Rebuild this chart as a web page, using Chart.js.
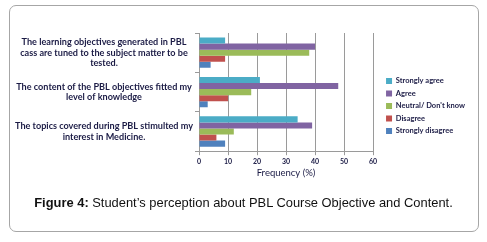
<!DOCTYPE html>
<html>
<head>
<meta charset="utf-8">
<script src="https://cdn.jsdelivr.net/npm/chart.js"></script>
<style>
  html, body { margin: 0; padding: 0; background: #fff; }
  #cadre {
    position: absolute; left: 9px; top: 5px; width: 470px; height: 227px;
    border: 1px solid #a6a6a6; border-radius: 7px; box-sizing: border-box;
  }
  #zone { position: absolute; left: 0; top: 0; width: 487px; height: 242px; }
  #legende {
    position: absolute; left: 0; top: 195px; width: 487px; text-align: center;
    font-family: "Liberation Sans", Arial, sans-serif; font-size: 12.9px; color: #111;
  }
</style>
</head>
<body>
<div id="cadre"></div>
<div id="zone"><canvas id="myChartPbl" width="487" height="242"></canvas></div>
<div id="legende"><b>Figure 4:</b> Student’s perception about PBL Course Objective and Content.</div>

<script>
//? Données.

const categories = [
  ["The learning objectives generated in PBL", "cass are tuned to the subject matter to be", "tested."],
  ["The content of the PBL objectives fitted my", "level of knowledge"],
  ["The topics covered during PBL stimulted my", "interest in Medicine."],
];

const nomsSeries = ["Strongly agree", "Agree", "Neutral/ Don't know", "Disagree", "Strongly disagree"];

const stronglyAgree = [9, 21, 34];
const agree = [40, 48, 39];
const neutral = [38, 18, 12];
const disagree = [9, 10, 6];
const stronglyDisagree = [4, 3, 9];

const axeXMin = 0;
const axeXMax = 60;
const axeXPas = 10;

//? -------------------------------------------------

const couleurs = ["#4BACC6", "#8064A2", "#9BBB59", "#C0504D", "#4F81BD"];
const valeurs = [stronglyAgree, agree, neutral, disagree, stronglyDisagree];
const couleurTexte = "#1b1b45";

//? Décalage de la légende vers la droite (comme sur la figure).

const decalageLegende = {
  id: "decalageLegende",
  afterLayout(chart) {
    chart.legend.left += 8;
    chart.legend.right += 8;
  },
};

//? Construction du graphique.

const constructionDuGraphique = () => {
  try {
    const ctx = document.getElementById("myChartPbl").getContext("2d");

    const data = {
      labels: categories,
      datasets: nomsSeries.map((nom, i) => ({
        label: nom,
        data: valeurs[i],
        backgroundColor: couleurs[i],
        borderWidth: 0,
        barPercentage: 1,
        categoryPercentage: 0.77,
      })),
    };

    const options = {
      indexAxis: "y",
      responsive: false,
      animation: { duration: 0 },
      layout: { padding: { left: 14, top: 33, right: 20, bottom: 63 } },
      plugins: {
        tooltip: { enabled: false },
        legend: {
          position: "right",
          labels: {
            boxWidth: 6,
            boxHeight: 6,
            padding: 5,
            color: couleurTexte,
            font: { family: "Lato", size: 7.5, weight: "bold" },
          },
        },
      },
      scales: {
        x: {
          min: axeXMin,
          max: axeXMax,
          ticks: {
            stepSize: axeXPas,
            color: couleurTexte,
            padding: 2,
            font: { family: "Lato", size: 7, weight: "bold" },
          },
          grid: { color: "#9a9a9a", tickLength: 4, tickColor: "#9a9a9a" },
          border: { color: "#9a9a9a" },
          title: {
            display: true,
            text: "Frequency (%)",
            color: couleurTexte,
            padding: { top: 0, bottom: 0 },
            font: { family: "Lato", size: 9.5 },
          },
        },
        y: {
          afterFit: (scale) => {
            scale.width = 185;
          },
          ticks: {
            crossAlign: "center",
            color: couleurTexte,
            padding: 2,
            font: { family: "Lato", size: 9.1, weight: "bold", lineHeight: 1.15 },
          },
          grid: { drawOnChartArea: false, tickLength: 4, color: "#9a9a9a" },
          border: { color: "#9a9a9a" },
        },
      },
    };

    new Chart(ctx, { type: "bar", data, options, plugins: [decalageLegende] });
  } catch (error) {
    console.log("🔴 ERREUR | Construction graphique :", error);
  }
};

constructionDuGraphique();
</script>
</body>
</html>
